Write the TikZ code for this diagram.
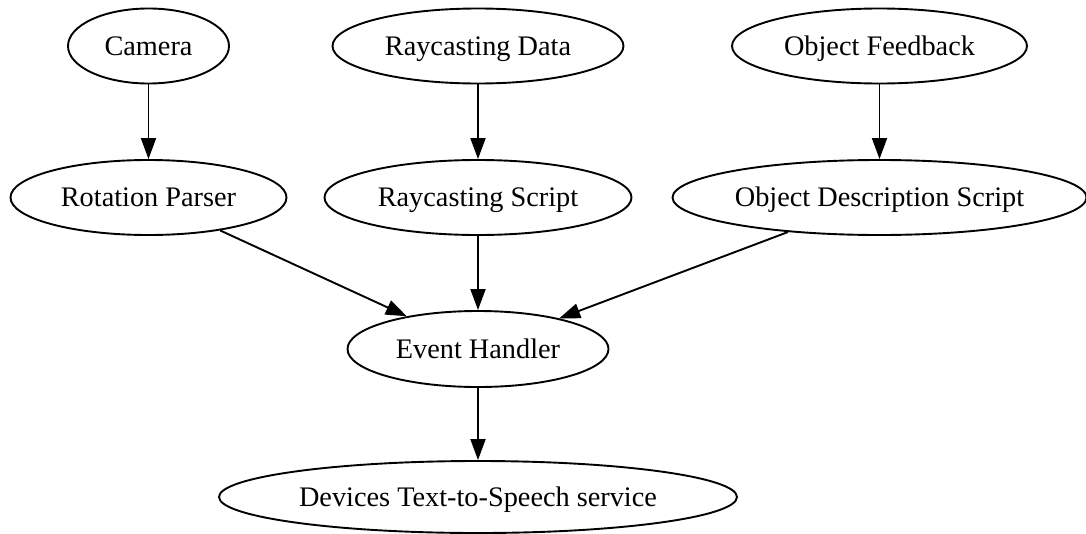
\documentclass[tikz,border=0pt]{standalone}
\usepackage{fontspec}
\setmainfont{Liberation Serif}
\usetikzlibrary{shapes.geometric,arrows.meta}
\begin{document}
\begin{tikzpicture}[x=1pt,y=-1pt,
  gnode/.style={draw, ellipse, line width=1.9pt, inner sep=0pt, minimum height=75pt,
    text height=22pt, text depth=4pt,
    font=\fontsize{28.3}{34}\selectfont},
  garrow/.style={line width=1.9pt, -{Triangle[length=21pt,width=15pt]}}]
\useasboundingbox (0,0) rectangle (1086,533);
\node[gnode, minimum width=161pt] (cam) at (148.5,46) {Camera};
\node[gnode, minimum width=291pt] (rd) at (478,46) {Raycasting Data};
\node[gnode, minimum width=295pt] (of) at (879.5,46) {Object Feedback};
\node[gnode, minimum width=414pt] (ods) at (879.5,197.5) {Object Description Script};
\node[gnode, minimum width=276pt] (rp) at (148.5,197.5) {Rotation Parser};
\node[gnode, minimum width=307pt] (rs) at (478,197.5) {Raycasting Script};
\node[gnode, minimum width=261pt, minimum height=76pt] (eh) at (478,349) {Event Handler};
\node[gnode, minimum width=518pt, minimum height=72pt] (dev) at (478,497) {Devices Text-to-Speech service};
\draw[garrow] (cam) -- (rp);
\draw[garrow] (rd) -- (rs);
\draw[garrow] (of) -- (ods);
\draw[garrow] (rp) -- (eh);
\draw[garrow] (rs) -- (eh);
\draw[garrow] (ods) -- (eh);
\draw[garrow] (eh) -- (dev);
\end{tikzpicture}
\end{document}
